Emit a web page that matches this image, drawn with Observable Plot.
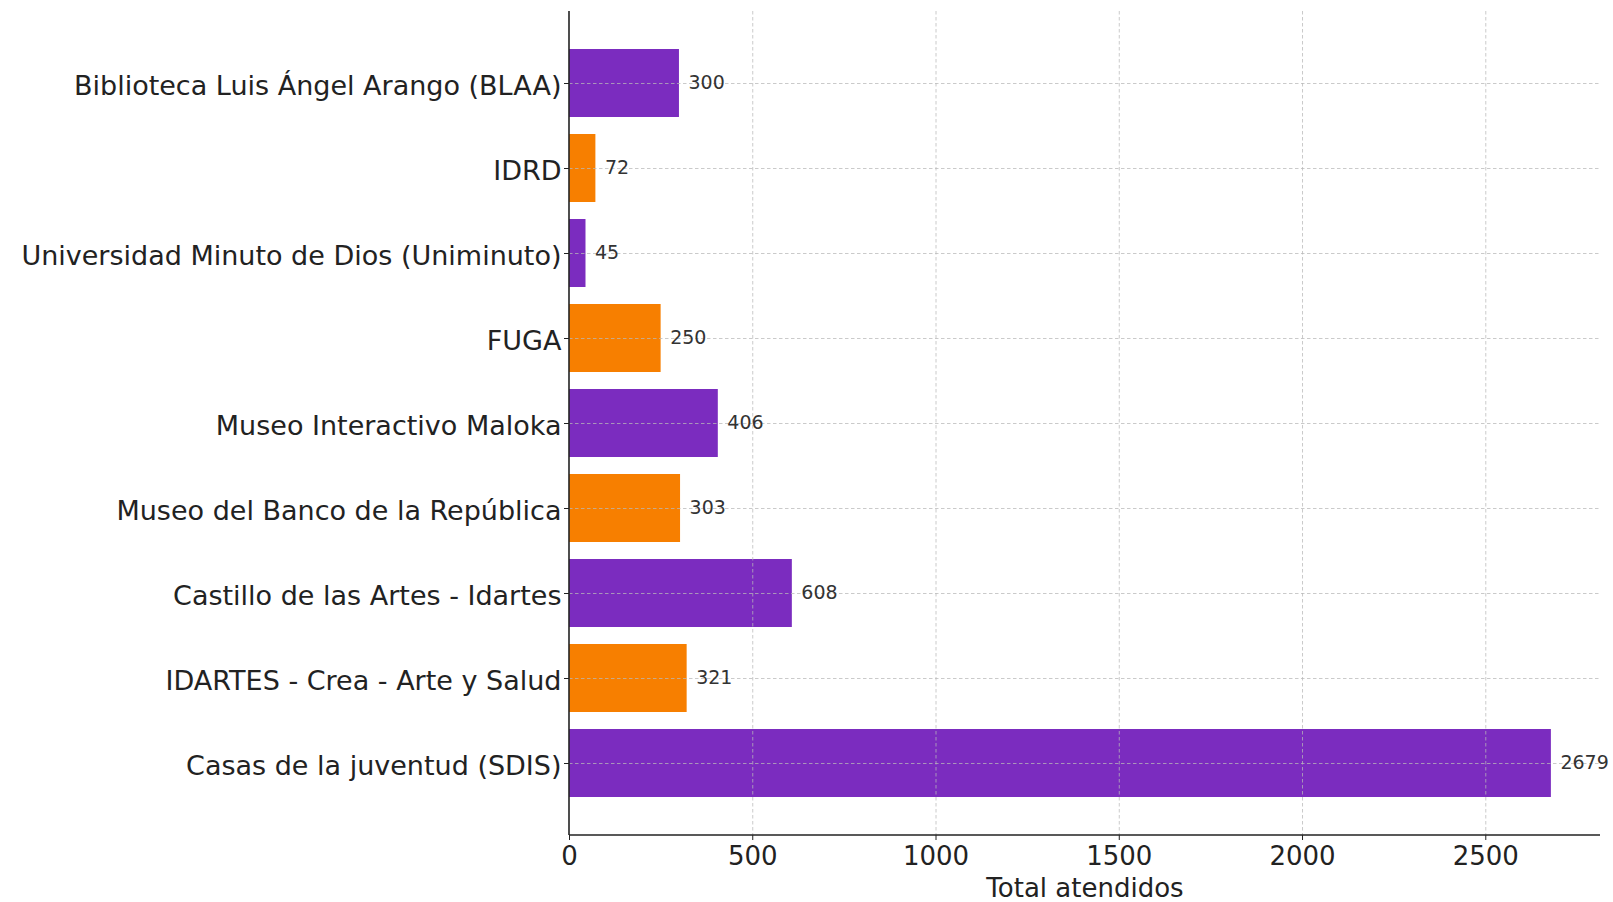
<!DOCTYPE html>
<html>
<head>
<meta charset="utf-8">
<script src="https://cdn.jsdelivr.net/npm/d3@7"></script>
<script src="https://cdn.jsdelivr.net/npm/@observablehq/plot@0.6"></script>
<style>
  html, body { margin: 0; padding: 0; background: #fff; }
  #chart svg { display: block; font-family: "DejaVu Sans", sans-serif; }
</style>
</head>
<body>
<div id="chart"></div>
<script>
const categories = [
  "Biblioteca Luis Ángel Arango (BLAA)",
  "IDRD",
  "Universidad Minuto de Dios (Uniminuto)",
  "FUGA",
  "Museo Interactivo Maloka",
  "Museo del Banco de la República",
  "Castillo de las Artes - Idartes",
  "IDARTES - Crea - Arte y Salud",
  "Casas de la juventud (SDIS)"
];
const values = [300, 72, 45, 250, 406, 303, 608, 321, 2679];
const colors = ["#7b2cbf", "#f77f00", "#7b2cbf", "#f77f00", "#7b2cbf", "#f77f00", "#7b2cbf", "#f77f00", "#7b2cbf"];
const xTicks = [0, 500, 1000, 1500, 2000, 2500];
const xLabel = "Total atendidos";

const data = categories.map((c, i) => ({name: c, value: values[i], color: colors[i]}));

const W = 1613, H = 902;
const mL = 569, mR = 13, mT = 11, mB = 67;

function spines(index, scales, values, dims) {
  const g = d3.create("svg:g");
  const x0 = dims.marginLeft, x1 = dims.width - dims.marginRight;
  const y0 = dims.marginTop, y1 = dims.height - dims.marginBottom;
  g.append("line").attr("x1", x0).attr("x2", x1).attr("y1", y1).attr("y2", y1)
    .attr("stroke", "#222").attr("stroke-width", 1.6);
  g.append("line").attr("x1", x0).attr("x2", x0).attr("y1", y0).attr("y2", y1)
    .attr("stroke", "#222").attr("stroke-width", 1.6);
  return g.node();
}

const chart = Plot.plot({
  width: W,
  height: H,
  marginLeft: mL,
  marginRight: mR,
  marginTop: mT,
  marginBottom: mB,
  style: {fontFamily: "DejaVu Sans, sans-serif", background: "#fff"},
  x: {domain: [0, 2813]},
  y: {type: "band", domain: categories, paddingInner: 0.2, paddingOuter: 0.44, align: 0.5},
  marks: [
    Plot.barX(data, {x: "value", y: "name", fill: "color"}),
    Plot.gridX(xTicks.slice(1), {stroke: "#b8b8b8", strokeOpacity: 0.75, strokeWidth: 1, strokeDasharray: "3.5,2.5"}),
    Plot.gridY({stroke: "#b8b8b8", strokeOpacity: 0.75, strokeWidth: 1, strokeDasharray: "3.5,2.5"}),
    Plot.text(data, {x: "value", y: "name", text: d => String(d.value), dx: 9, dy: -1, textAnchor: "start", fontSize: 19, fill: "#333"}),
    Plot.axisY({label: null, text: null, tickSize: 5, stroke: "#222"}),
    Plot.axisY({label: null, fontSize: 27, tickSize: 0, tickPadding: 8, dy: 3, color: "#222"}),
    Plot.axisX({ticks: xTicks, tickFormat: d => String(d), label: null, fontSize: 26, tickSize: 5, tickPadding: 6, color: "#222", stroke: "#222"}),
    Plot.text([xLabel], {frameAnchor: "bottom", dy: 53, lineAnchor: "middle", fontSize: 26, fill: "#222"}),
    spines
  ]
});
document.getElementById("chart").appendChild(chart);
</script>
</body>
</html>
